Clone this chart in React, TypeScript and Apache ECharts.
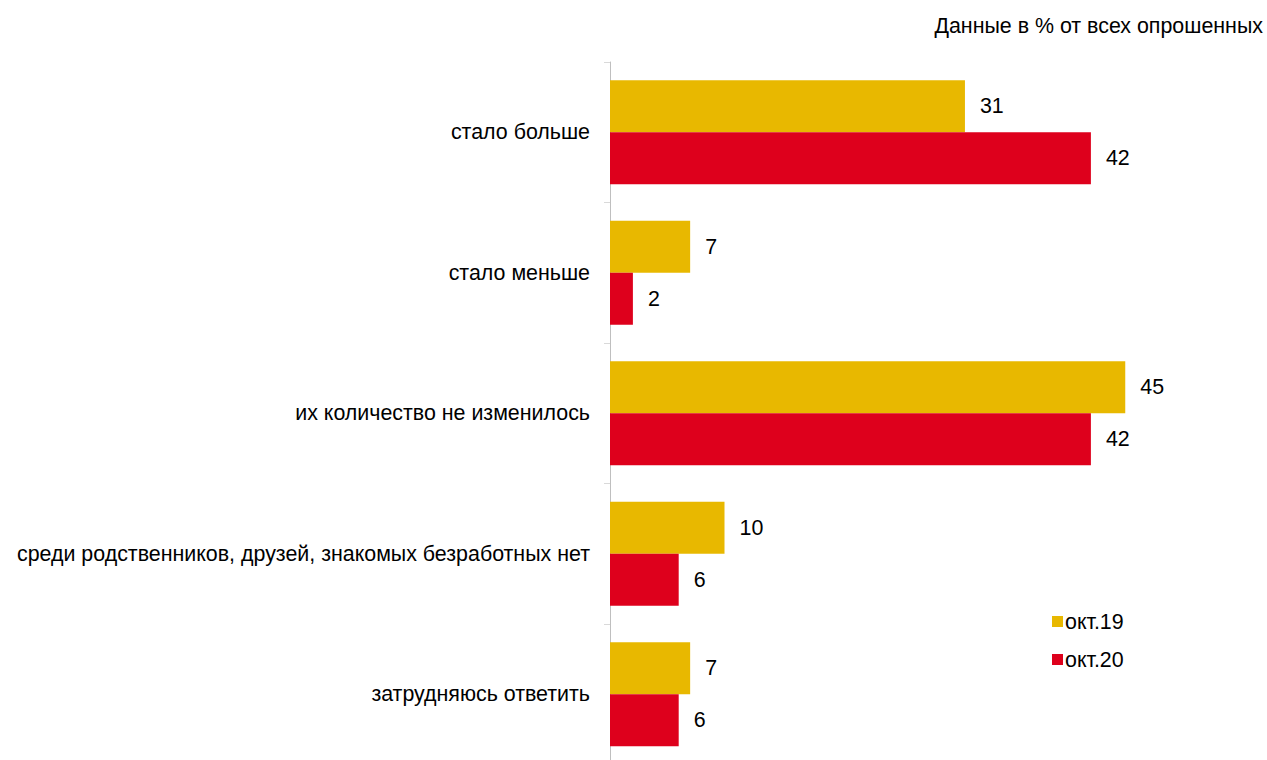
import React, { useEffect, useRef } from "react";
import * as echarts from "echarts";

const categories = [
  "стало больше",
  "стало меньше",
  "их количество не изменилось",
  "среди родственников, друзей, знакомых безработных нет",
  "затрудняюсь ответить",
];
const seriesNames = ["окт.19", "окт.20"];
const oct19 = [31, 7, 45, 10, 7];
const oct20 = [42, 2, 42, 6, 6];
const note = "Данные в % от всех опрошенных";

export default function App() {
  const ref = useRef<HTMLDivElement>(null);
  useEffect(() => {
    const chart = echarts.init(ref.current!, null, { renderer: "svg" });
    const font = "'Liberation Sans', Arial, sans-serif";
    const fs = 21.4;
    const label = {
      show: true,
      position: "right" as const,
      distance: 15,
      fontSize: fs,
      fontFamily: font,
      color: "#000",
    };
    chart.setOption({
      animation: false,
      textStyle: { fontFamily: font },
      title: {
        text: note,
        right: 4,
        top: 15,
        padding: 0,
        textStyle: { fontSize: fs, fontWeight: "normal", color: "#000", fontFamily: font },
      },
      legend: {
        orient: "vertical",
        left: 1052,
        top: 611,
        padding: 0,
        itemWidth: 11,
        itemHeight: 11,
        itemGap: 17,
        icon: "rect",
        textStyle: { fontSize: fs, color: "#000", fontFamily: font, padding: [0, 0, 0, -3] },
        data: seriesNames,
      },
      grid: { left: 610, top: 62, width: 572.5, height: 702.5 },
      xAxis: {
        type: "value",
        min: 0,
        max: 50,
        show: false,
      },
      yAxis: {
        type: "category",
        data: categories,
        inverse: true,
        axisLine: { show: true, lineStyle: { color: "#bfbfbf", width: 1 } },
        axisTick: { show: true, length: 6, lineStyle: { color: "#d9d9d9" } },
        axisLabel: { fontSize: fs, color: "#000", margin: 20, fontFamily: font },
      },
      series: [
        {
          name: seriesNames[0],
          type: "bar",
          data: oct19,
          itemStyle: { color: "#e8b800" },
          barGap: "0%",
          barCategoryGap: "26%",
          label,
        },
        {
          name: seriesNames[1],
          type: "bar",
          data: oct20,
          itemStyle: { color: "#de001c" },
          barGap: "0%",
          barCategoryGap: "26%",
          label,
        },
      ],
    });
    return () => chart.dispose();
  }, []);
  return (
    <div
      style={{
        position: "fixed",
        left: 0,
        top: 0,
        width: 1267,
        height: 760,
        overflow: "hidden",
        background: "#fff",
      }}
    >
      <div ref={ref} style={{ width: 1267, height: 800 }} />
    </div>
  );
}
